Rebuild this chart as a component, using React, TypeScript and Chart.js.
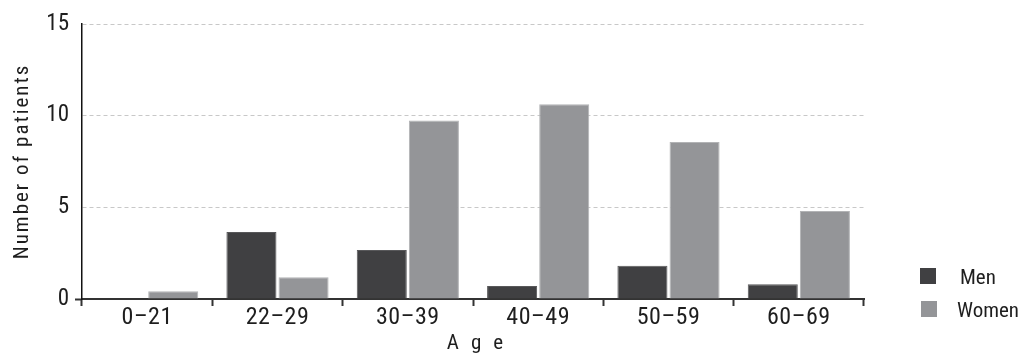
import React, { useEffect, useRef } from 'react';
import { Chart, registerables } from 'chart.js';

Chart.register(...registerables);

const categories = ['0–21', '22–29', '30–39', '40–49', '50–59', '60–69'];
const menValues = [0, 3.65, 2.67, 0.71, 1.82, 0.8];
const womenValues = [0.42, 1.18, 9.73, 10.62, 8.56, 4.8];
const seriesNames = ['Men', 'Women'];
const yTickValues = [0, 5, 10, 15];
const xTitle = 'Age';
const yTitle = 'Number of patients';

const MEN_COLOR = '#404042';
const WOMEN_COLOR = '#949598';
const FONT = "'Roboto Condensed', 'DejaVu Sans Condensed', sans-serif";
const TEXT = '#1e1e1e';

const extrasPlugin = {
  id: 'extras',
  beforeDraw(chart: any) {
    const ctx = chart.ctx;
    const xs = chart.scales.x;
    const ys = chart.scales.y;
    if (xs && !xs.__patched) {
      const orig = xs.drawLabels.bind(xs);
      xs.drawLabels = (a: any) => {
        ctx.save();
        ctx.letterSpacing = '0.5px';
        orig(a);
        ctx.restore();
      };
      xs.__patched = true;
    }
    if (ys && !ys.__patched) {
      const orig = ys.drawTitle.bind(ys);
      ys.drawTitle = () => {
        ctx.save();
        ctx.letterSpacing = '2px';
        orig();
        ctx.restore();
      };
      ys.__patched = true;
    }
  },
  afterDraw(chart: any) {
    const ctx = chart.ctx;
    const area = chart.chartArea;
    ctx.save();
    // x axis title
    ctx.font = `21px ${FONT}`;
    ctx.fillStyle = TEXT;
    ctx.textAlign = 'center';
    ctx.textBaseline = 'alphabetic';
    const sp = 12;
    ctx.letterSpacing = `${sp}px`;
    ctx.fillText(xTitle, (area.left + area.right) / 2 + 2 + sp / 2, area.bottom + 50);
    ctx.letterSpacing = '0px';
    // legend
    const colors = [MEN_COLOR, WOMEN_COLOR];
    const boxX = area.right + 56;
    const rows = [area.bottom - 31, area.bottom + 2];
    ctx.textAlign = 'left';
    seriesNames.forEach((name, i) => {
      ctx.fillStyle = colors[i];
      ctx.fillRect(boxX + i, rows[i], 16, 16);
      ctx.fillStyle = TEXT;
      ctx.font = `21px ${FONT}`;
      ctx.fillText(name, i === 0 ? boxX + 40 : boxX + 37, rows[i] + 16);
    });
    ctx.restore();
  },
};

export default function App() {
  const ref = useRef<HTMLCanvasElement | null>(null);

  useEffect(() => {
    document.body.style.margin = '0';
    if (!ref.current) return;
    const chart = new Chart(ref.current, {
      type: 'bar',
      data: {
        labels: categories,
        datasets: [
          {
            label: seriesNames[0],
            data: menValues,
            backgroundColor: MEN_COLOR,
            borderColor: '#58585a',
            borderWidth: 1,
            categoryPercentage: 0.8,
            barPercentage: 0.96,
          },
          {
            label: seriesNames[1],
            data: womenValues,
            backgroundColor: WOMEN_COLOR,
            borderColor: '#b2b3b5',
            borderWidth: 1,
            categoryPercentage: 0.8,
            barPercentage: 0.96,
          },
        ],
      },
      options: {
        responsive: false,
        animation: false,
        devicePixelRatio: 1,
        layout: { padding: { top: 24, right: 160, left: 0, bottom: 0 } },
        plugins: {
          legend: { display: false },
          tooltip: { enabled: false },
        },
        scales: {
          x: {
            ticks: { color: TEXT, font: { family: FONT, size: 24 }, padding: -2 },
            grid: {
              offset: true,
              drawOnChartArea: false,
              drawTicks: true,
              tickLength: 7,
              tickColor: '#333',
              tickWidth: 2,
            },
            border: { display: true, color: '#333', width: 2 },
            afterFit: (s: any) => {
              s.height = 60;
            },
          },
          y: {
            min: 0,
            max: 15,
            afterBuildTicks: (s: any) => {
              s.ticks = yTickValues.map((v) => ({ value: v }));
            },
            ticks: { color: TEXT, font: { family: FONT, size: 23 }, padding: 6 },
            grid: {
              color: (c: any) => (c.tick && c.tick.value === 0 ? 'rgba(0,0,0,0)' : '#c8c8c8'),
              tickColor: (c: any) => (c.tick && c.tick.value === 0 ? '#333' : 'rgba(0,0,0,0)'),
              tickLength: 7,
              tickWidth: 2,
              lineWidth: 1,
            },
            border: { display: true, color: '#111', width: 1.5, dash: [4, 3] },
            title: {
              display: true,
              text: yTitle,
              color: TEXT,
              font: { family: FONT, size: 21 },
              padding: { top: 10, bottom: 0 },
            },
            afterFit: (s: any) => {
              s.width = 82;
            },
          },
        },
      },
      plugins: [extrasPlugin],
    });
    return () => chart.destroy();
  }, []);

  return (
    <div style={{ width: 1024, height: 359 }}>
      <canvas ref={ref} width={1024} height={359} style={{ display: 'block' }} />
    </div>
  );
}
